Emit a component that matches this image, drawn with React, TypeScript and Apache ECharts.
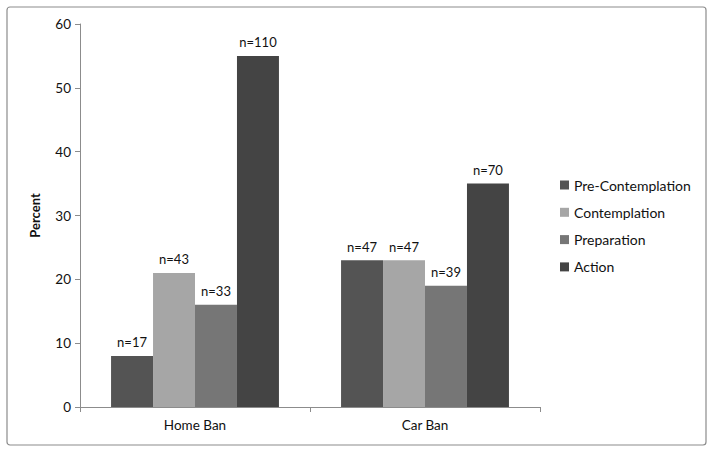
import React, { useEffect, useRef } from "react";
import * as echarts from "echarts";

const categories = ["Home Ban", "Car Ban"];
const seriesNames = ["Pre-Contemplation", "Contemplation", "Preparation", "Action"];
const preContemplation = [8, 23];
const contemplation = [21, 23];
const preparation = [16, 19];
const action = [55, 35];
const nLabels = [
  ["n=17", "n=47"],
  ["n=43", "n=47"],
  ["n=33", "n=39"],
  ["n=110", "n=70"],
];
const colors = ["#545454", "#a6a6a6", "#767676", "#444444"];
const yTicks = { min: 0, max: 60, interval: 10 };

const FONT = "Lato, 'Open Sans', sans-serif";

export default function App() {
  const ref = useRef<HTMLDivElement>(null);
  useEffect(() => {
    document.body.style.margin = "0";
    if (!ref.current) return;
    const chart = echarts.init(ref.current, undefined, { renderer: "svg" });
    const values = [preContemplation, contemplation, preparation, action];
    chart.setOption({
      animation: false,
      backgroundColor: "#ffffff",
      textStyle: { fontFamily: FONT },
      graphic: [
        {
          type: "rect",
          shape: { x: 7, y: 7, width: 699, height: 438, r: 3 },
          style: { fill: "none", stroke: "#8c8c8c", lineWidth: 1.2 },
          silent: true,
        },
      ],
      legend: {
        orient: "vertical",
        left: 555,
        top: 173,
        itemWidth: 9,
        itemHeight: 9,
        itemGap: 13.3,
        icon: "rect",
        textStyle: { fontSize: 14, color: "#111", fontFamily: FONT },
        data: seriesNames,
      },
      grid: { left: 80, right: 174, top: 24, bottom: 46 },
      xAxis: {
        type: "category",
        data: categories,
        axisLine: { lineStyle: { color: "#8c8c8c" } },
        axisTick: { show: true, length: 5, lineStyle: { color: "#8c8c8c" } },
        axisLabel: { fontSize: 13.5, color: "#111", margin: 11, fontFamily: FONT },
      },
      yAxis: {
        type: "value",
        min: yTicks.min,
        max: yTicks.max,
        interval: yTicks.interval,
        name: "Percent",
        nameLocation: "middle",
        nameGap: 39,
        nameTextStyle: { fontSize: 13, fontWeight: "bold", color: "#111", fontFamily: FONT },
        axisLine: { show: true, lineStyle: { color: "#8c8c8c" } },
        axisTick: { show: true, length: 5, lineStyle: { color: "#8c8c8c" } },
        axisLabel: { fontSize: 13.5, color: "#111", margin: 9, fontFamily: FONT },
        splitLine: { show: false },
      },
      series: seriesNames.map((name, i) => ({
        name,
        type: "bar",
        data: values[i],
        barGap: "0%",
        barCategoryGap: "27%",
        itemStyle: { color: colors[i] },
        label: {
          show: true,
          position: "top",
          distance: 7,
          fontSize: 13,
          color: "#111",
          fontFamily: FONT,
          formatter: (p: any) => nLabels[i][p.dataIndex],
        },
      })),
    });
    return () => chart.dispose();
  }, []);
  return <div ref={ref} style={{ width: 714, height: 453 }} />;
}
